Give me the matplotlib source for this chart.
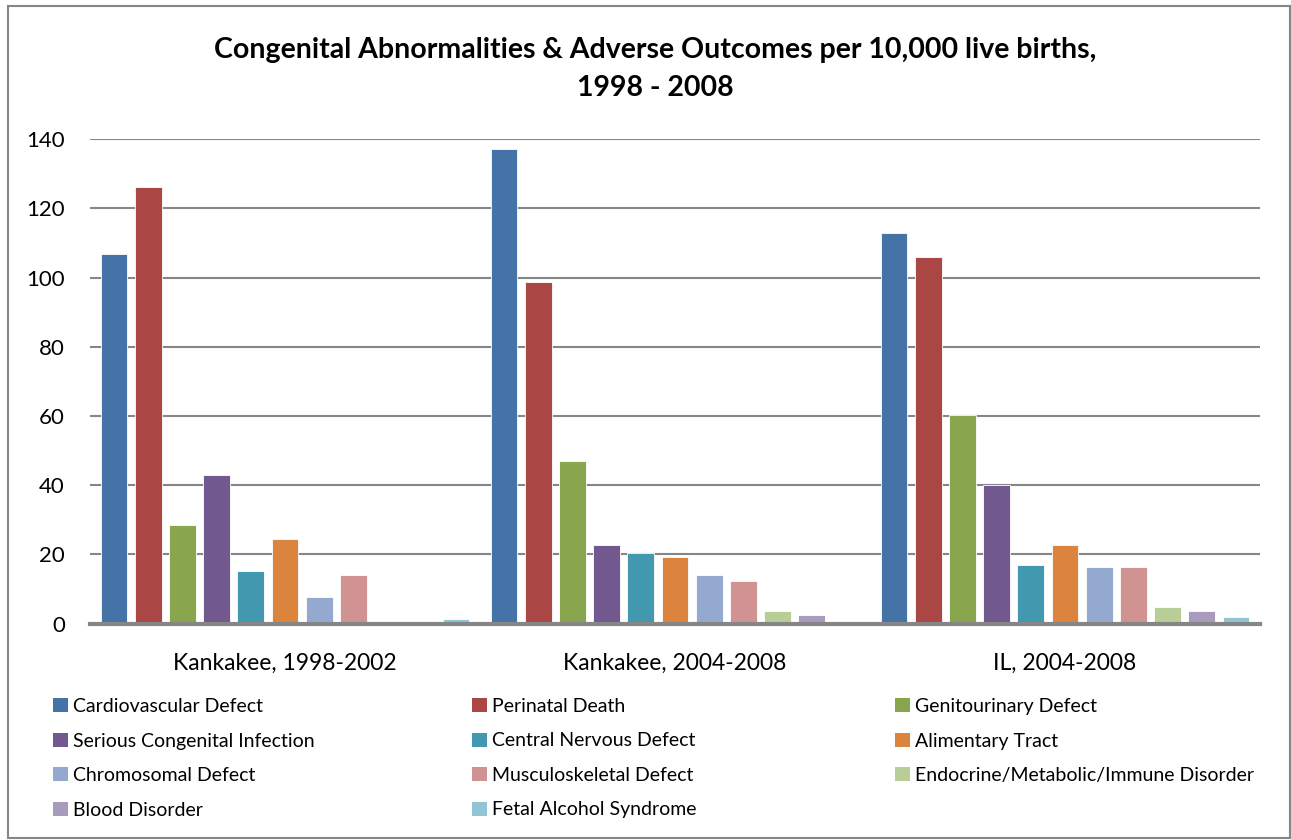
import numpy as np
import matplotlib.pyplot as plt
from matplotlib.patches import Rectangle, Patch

plt.rcParams['font.family'] = ['Lato', 'DejaVu Sans']

groups = ['Kankakee, 1998-2002', 'Kankakee, 2004-2008', 'IL, 2004-2008']

series = ['Cardiovascular Defect', 'Perinatal Death', 'Genitourinary Defect',
          'Serious Congenital Infection', 'Central Nervous Defect', 'Alimentary Tract',
          'Chromosomal Defect', 'Musculoskeletal Defect',
          'Endocrine/Metabolic/Immune Disorder', 'Blood Disorder', 'Fetal Alcohol Syndrome']

cardiovascular = [106.7, 137.3, 112.9]
perinatal = [126.3, 98.6, 106.0]
genitourinary = [28.5, 47.0, 60.3]
serious_infection = [42.9, 22.7, 40.0]
central_nervous = [15.2, 20.4, 16.8]
alimentary = [24.5, 19.3, 22.7]
chromosomal = [7.6, 14.1, 16.4]
musculoskeletal = [14.1, 12.3, 16.4]
endocrine = [0, 3.7, 4.8]
blood = [0, 2.5, 3.7]
fetal_alcohol = [1.4, 0, 1.9]

values = [cardiovascular, perinatal, genitourinary, serious_infection, central_nervous,
          alimentary, chromosomal, musculoskeletal, endocrine, blood, fetal_alcohol]

colors = ['#4572A7', '#AA4643', '#89A54E', '#71588F', '#4198AF', '#DB843D',
          '#93A9CF', '#D19392', '#B9CD96', '#A99BBD', '#92C5D4']

W, H = 1291, 840
fig = plt.figure(figsize=(W / 100, H / 100), dpi=100)

# chart border
fig.patches.append(Rectangle((8 / W, 2 / H), 1282 / W, 832 / H, transform=fig.transFigure,
                             fill=False, edgecolor='#868686', linewidth=1.5))

ax = fig.add_axes([90 / W, 1 - 623.5 / H, 1170 / W, 484.2 / H])

x = np.arange(len(groups))
slot = 0.0877
bar_w = slot * 0.78
n = len(series)
for i in range(n):
    offs = (i - (n - 1) / 2) * slot
    ax.bar(x + offs, values[i], width=bar_w, color=colors[i], edgecolor='white',
           linewidth=0.6, zorder=3, label=series[i])

ax.set_xlim(-0.5, 2.5)
ax.set_ylim(0, 140)
ax.set_yticks(np.arange(0, 141, 20))
ax.grid(axis='y', color='#868686', linewidth=1.5, zorder=0)
ax.set_xticks(x)
ax.set_xticklabels(groups)
ax.tick_params(axis='x', length=0, pad=21, labelsize=16.5)
ax.tick_params(axis='y', length=0, pad=18, labelsize=16)
for s in ['top', 'right', 'left']:
    ax.spines[s].set_visible(False)
ax.spines['bottom'].set_color('#868686')
ax.spines['bottom'].set_linewidth(3)
ax.spines['bottom'].set_zorder(4)

fig.text(655 / W, 1 - 69 / H, 'Congenital Abnormalities & Adverse Outcomes per 10,000 live births,\n1998 - 2008',
         ha='center', va='center', fontsize=20.5, fontweight='bold', linespacing=1.55)

# legend: three columns, row-wise order as in the original
col_x = [53, 472, 895]
for c in range(3):
    idx = list(range(c, n, 3))
    handles = [Patch(facecolor=colors[i]) for i in idx]
    labels = [series[i] for i in idx]
    fig.legend(handles, labels, loc='upper left', bbox_to_anchor=(col_x[c] / W, 1 - 698 / H),
               frameon=False, fontsize=14, handlelength=0.75, handleheight=0.75,
               handletextpad=0.3, labelspacing=0.9, borderaxespad=0, borderpad=0)

fig.savefig('out.png', dpi=100)
